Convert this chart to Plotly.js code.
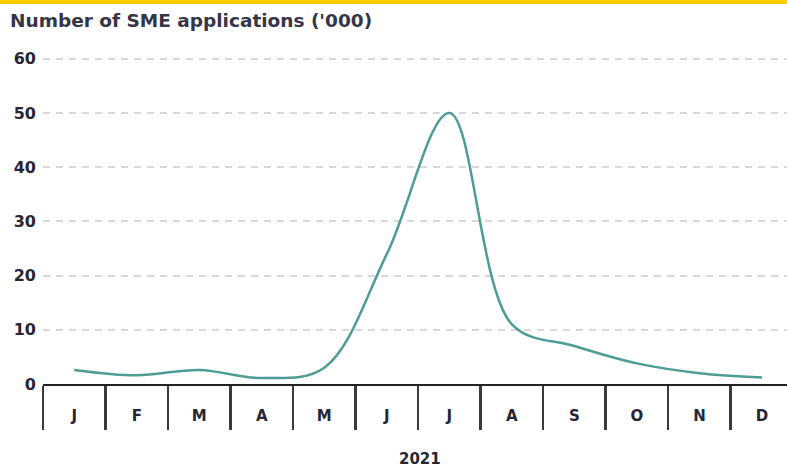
<!DOCTYPE html>
<html>
<head>
<meta charset="utf-8">
<script src="https://cdn.plot.ly/plotly-3.0.1.min.js"></script>
<style>
  html, body { margin: 0; padding: 0; background: #fff; }
  #wrap { position: relative; width: 787px; height: 470px; }
  #topbar { position: absolute; left: 0; top: 0; width: 787px; height: 4px; background: #ffcc00; z-index: 5; }
  #chart { width: 787px; height: 470px; }
</style>
</head>
<body>
<div id="wrap">
  <div id="topbar"></div>
  <div id="chart"></div>
</div>
<script>
// ---- data ----
const months = ['Jan','Feb','Mar','Apr','May','Jun','Jul','Aug','Sep','Oct','Nov','Dec'];
const monthLabels = ['J','F','M','A','M','J','J','A','S','O','N','D'];
const applications = [2.6, 1.6, 2.6, 1.1, 3.0, 24, 50, 11, 7, 3.8, 2.0, 1.2];
const yTicks = [0, 10, 20, 30, 40, 50, 60];
const yearLabel = '2021';
const chartTitle = "Number of SME applications ('000)";

const xIdx = months.map((m, i) => i);
const font = { family: 'DejaVu Sans, sans-serif', color: '#262636', weight: 700 };

const trace = {
  x: xIdx,
  y: applications,
  type: 'scatter',
  mode: 'lines',
  line: { color: '#4e9c96', width: 2.5, shape: 'spline', smoothing: 1 },
  hoverinfo: 'skip'
};

const layout = {
  width: 787,
  height: 470,
  margin: { l: 43, r: 0, t: 56, b: 86 },
  paper_bgcolor: '#ffffff',
  plot_bgcolor: '#ffffff',
  showlegend: false,
  title: {
    text: chartTitle,
    x: 10 / 787, xref: 'container', xanchor: 'left',
    y: 1 - 21 / 470, yref: 'container', yanchor: 'middle',
    font: Object.assign({}, font, { size: 18.5, color: '#35354a' })
  },
  xaxis: {
    type: 'linear',
    range: [-0.5, 11.4],
    tickmode: 'array',
    tickvals: xIdx,
    ticktext: monthLabels,
    ticks: '',
    ticklabelstandoff: 17,
    tickfont: Object.assign({}, font, { size: 15 }),
    showgrid: false,
    zeroline: false,
    showline: true,
    linecolor: '#222222',
    linewidth: 2,
    minor: {
      ticks: 'outside',
      tick0: -0.5,
      dtick: 1,
      ticklen: 44,
      tickwidth: 2.5,
      tickcolor: '#3a3a3a',
      showgrid: false
    },
    fixedrange: true
  },
  yaxis: {
    range: [0, 60.5],
    tickmode: 'array',
    tickvals: yTicks,
    ticks: '',
    ticklabelstandoff: 6,
    tickfont: Object.assign({}, font, { size: 16 }),
    showgrid: true,
    gridcolor: '#d8d8d8',
    gridwidth: 2,
    griddash: '7px,6px',
    zeroline: false,
    showline: false,
    fixedrange: true
  },
  annotations: [{
    text: yearLabel,
    xref: 'paper', yref: 'paper',
    x: 0.507, y: -(459 - 384) / 328,
    xanchor: 'center', yanchor: 'middle',
    showarrow: false,
    font: Object.assign({}, font, { size: 15 })
  }]
};

Plotly.newPlot('chart', [trace], layout, { displayModeBar: false, staticPlot: true });
</script>
</body>
</html>
